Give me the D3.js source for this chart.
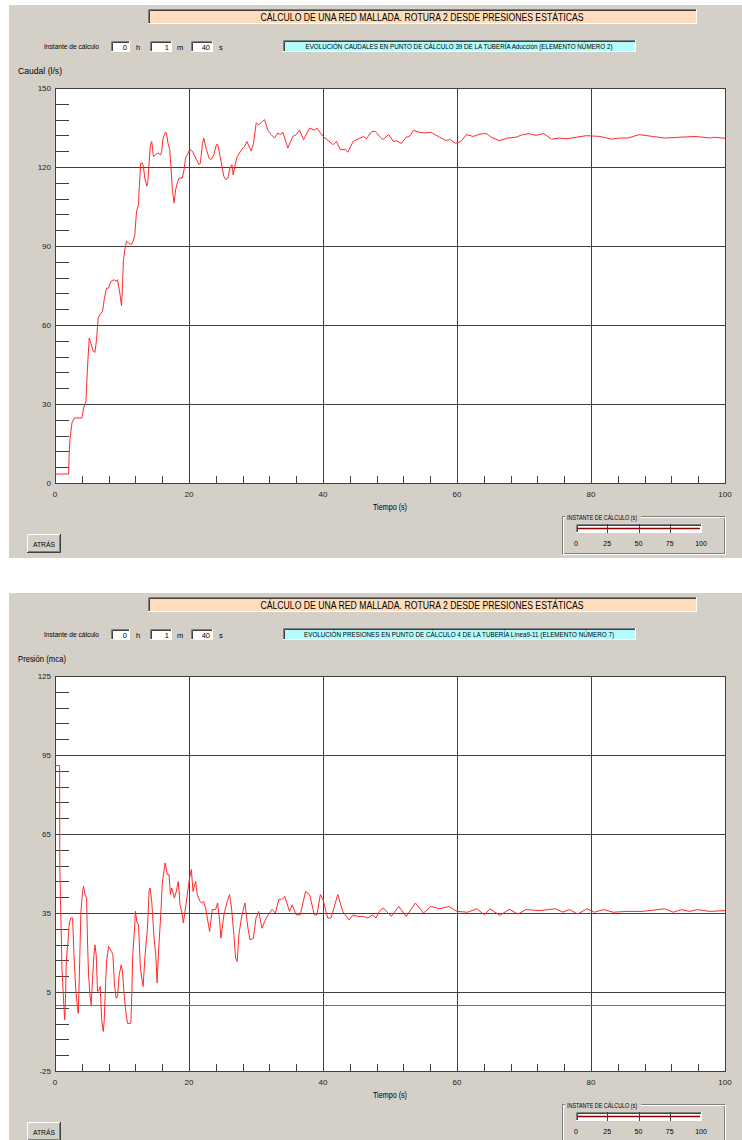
<!DOCTYPE html>
<html><head><meta charset="utf-8">
<script src="https://cdn.jsdelivr.net/npm/d3@7/dist/d3.min.js"></script>
<style>
html,body{margin:0;padding:0;background:#fff;}
svg text{font-family:"Liberation Sans Narrow","Liberation Sans",Arial,sans-serif;}
</style></head><body>
<svg id="c" width="742" height="1140"></svg>
<script>
// ---------- DATA ----------
const mainTitle = "CÁLCULO DE UNA RED MALLADA. ROTURA 2 DESDE PRESIONES ESTÁTICAS";
const caudalSubtitle = "EVOLUCIÓN CAUDALES EN PUNTO DE CÁLCULO 39 DE LA TUBERÍA Aducción  (ELEMENTO NÚMERO 2)";
const presionSubtitle = "EVOLUCIÓN PRESIONES EN PUNTO DE CÁLCULO 4 DE LA TUBERÍA Línea9-11  (ELEMENTO NÚMERO 7)";
const caudalYLabel = "Caudal (l/s)";
const presionYLabel = "Presión (mca)";
const xLabel = "Tiempo (s)";
const timeFields = ["0","1","40"];
const timeUnits = ["h","m","s"];
const xTicks = [0,20,40,60,80,100];
const caudalYTicks = [0,30,60,90,120,150];
const presionYTicks = [-25,5,35,65,95,125];
const sliderTicks = [0,25,50,75,100];
const presionRef = [0];

const caudalT = [0,2.03,2.1,2.23,2.53,2.88,4.02,4.27,4.62,4.86,5.11,5.36,5.71,5.96,6.2,6.35,6.45,6.85,7.1,7.34,7.69,7.99,8.34,8.83,9.18,9.33,9.68,9.93,10.07,10.22,10.42,10.67,11.07,11.41,11.66,11.91,12.16,12.46,12.56,12.8,13.05,13.2,13.4,13.7,13.85,14.04,14.24,14.44,14.69,15.04,15.29,15.78,15.93,16.13,16.43,16.63,16.87,17.12,17.32,17.52,17.77,18.01,18.26,18.51,19.01,19.26,19.5,19.75,20.1,20.5,21,21.5,21.7,22,22.2,22.6,23,23.3,23.7,24.1,24.3,24.8,25.2,25.5,25.8,26.1,26.4,26.6,26.9,27.2,27.7,28.04,28.3,28.63,29.28,29.63,30.03,30.43,30.92,31.27,31.77,32.27,32.76,33.26,33.61,34.01,34.75,35.5,36,36.5,37.1,38,38.7,39.1,40,40.6,41.5,42,42.6,43.4,43.7,44.5,45.5,46.05,46.45,47.3,47.8,48.9,49.8,50.5,50.9,51.7,52.4,52.9,53.5,54.4,55.2,56.1,57.4,58.4,58.9,59.8,60.6,61.4,62.4,63.4,64.4,65.1,66.3,67.6,68.8,69.8,70.7,71.8,72.9,74.1,75.3,76.4,77.8,79.3,81.3,83,84.3,85.5,87.2,89.2,91,93.2,95.7,97.7,98.4,100];
const caudalQ = [3.4,3.4,10,16.5,22.8,24.7,24.7,28.5,31,44.3,55,53,50,49.6,54.4,59.5,62.7,64.6,65.2,69.6,74,74,76.6,77.2,76.6,77.2,72,67.3,74.7,84.8,88.6,91.8,91,90.5,91.8,94.3,103,105.7,111.4,121.5,121.5,120,115.8,112.7,114,121.5,128.5,129.7,124,124.7,125.3,124.7,126,131,133,133,129,126.6,119.6,111.4,106.3,111.4,114,115.8,115.8,119,123.4,124.7,126.6,126,123.4,120.9,121.5,128.5,131,126.6,123.4,122.8,124.7,128.5,128.5,122,116.4,115.2,115.8,119.6,120.9,117,121,124,126,127.2,127.8,129.7,126,129,136.7,136,137.3,138,134,132.3,131,132.9,132.3,133.2,127.2,131.6,132.3,134,130.4,134.8,134,134.8,131.6,130.4,128.5,129.7,126.6,126.6,125.6,129.7,131,131.6,130.7,133.5,133.5,130.4,132.3,129.7,130,129,131.3,131.6,133.9,133.2,132.9,133.2,131.3,130,130.5,129,129.7,132.3,131.6,132.5,132.7,131.3,130,131,131.3,132.3,132.7,132,132.7,130.6,131,130.7,131.3,131.9,131.6,130.6,131,131,132.3,131.6,131,131.3,131.6,131,131.3,130.9];

const presionT = [0,0.69,0.72,0.89,1.04,1.24,1.44,1.54,1.69,1.94,2.13,2.38,2.63,2.83,3.08,3.33,3.47,3.62,3.72,3.87,4.12,4.27,4.47,4.71,4.86,5.01,5.21,5.41,5.61,5.81,5.96,6.15,6.35,6.6,6.75,6.95,7.2,7.34,7.49,7.69,7.99,8.44,8.64,8.88,9.13,9.33,9.58,9.88,10.07,10.32,10.57,10.82,11.32,11.46,11.61,11.81,12.01,12.21,12.46,12.75,13.15,13.45,13.8,14.04,14.19,14.44,14.79,15.04,15.24,15.43,15.78,16.03,16.33,16.43,16.77,17.02,17.22,17.42,17.82,18.11,18.41,18.66,18.91,19.16,19.4,19.75,20.05,20.35,20.6,20.99,21.24,21.64,21.89,22.18,22.48,22.73,23.08,23.47,23.97,24.27,24.57,24.76,25.21,25.71,26.05,26.35,26.7,26.95,27.2,27.44,27.9,28.35,28.75,29.1,29.6,30,30.4,30.9,31.3,31.5,31.9,32.4,32.9,33.4,33.8,34.3,35,35.4,36,36.6,37.4,38,38.7,39.1,39.6,40,40.7,41.2,41.7,42.2,42.96,43.5,43.9,44.5,45.2,46.05,46.7,47.4,47.9,48.4,49,50.2,51.3,52.4,53.8,55,56.1,57.4,58.8,60,61.6,62.96,64.1,64.9,66.4,67.8,69.1,70.3,72.3,74.7,75.8,76.8,78,79.4,80.5,81.9,83.3,85.3,87.7,91,92.3,93.5,94.7,95.9,97.7,100];
const presionP = [91,91,52.1,32.4,13.9,3.9,-5.6,0.1,17.1,24.2,31.2,33.1,33.1,19.1,6.5,-0.5,-3.1,10.3,20.4,35.6,43.2,45.1,42,40.7,23.6,11.5,3.9,0.1,10.3,19.1,22.9,19.1,5.2,5.8,7.1,-5,-10,-6.2,3.9,16.6,22.3,20.4,19.1,7.7,2.6,3.3,11.5,15.3,12.8,3.9,-2.4,-6.9,-6.9,3.9,19.1,26.7,35.6,31.8,30.5,13.9,7.1,19.1,29.2,43.2,44.5,39.4,25.4,19.1,8.4,19.1,34.3,47,52.1,54,49.6,49.6,42,44.5,40.7,43.2,47,38.1,35.6,31.2,35.6,42,47.7,51.5,43.2,47,42,39.4,38.8,39.4,36.9,33.1,28,36.3,36.3,38.8,32.4,25.4,34.3,39.4,42,36.9,26.7,17.9,16.6,26.7,34.3,38.8,30,24.8,25.4,33.1,35.6,29.2,31.8,33.1,34.6,36.3,35,40.1,40.1,41.3,35.6,38.1,34.3,34.3,43.2,42,34.3,34.3,42,40.1,33.1,33.1,37.5,42,35.6,33.7,32.4,34.3,33.7,33.7,33.1,34.3,33.1,35.6,36.9,33.7,37.5,33.7,38.8,35,37.5,36.6,37.5,35.6,35.3,36.6,34.3,36.6,34.1,36.4,34.6,36.3,35.9,36.6,35.3,36.3,34.6,36.6,35.3,36.3,35.3,35.6,35.6,36.6,35.3,36.3,35.6,36.3,35.6,35.9];

// ---------- DRAW ----------
const svg = d3.select("#c");
const BG = "#d4d0c8";

function sunken(g, x, y, w, h, fill){
  g.append("rect").attr("x",x).attr("y",y).attr("width",w).attr("height",h).attr("fill",fill);
  g.append("path").attr("d",`M${x+0.5},${y+h}V${y+0.5}H${x+w}`).attr("stroke","#808080").attr("fill","none");
  g.append("path").attr("d",`M${x+1.5},${y+h-1}V${y+1.5}H${x+w-1}`).attr("stroke","#404040").attr("fill","none");
  g.append("path").attr("d",`M${x},${y+h-0.5}H${x+w-0.5}V${y}`).attr("stroke","#fff").attr("fill","none");
}
function raised(g, x, y, w, h){
  g.append("rect").attr("x",x).attr("y",y).attr("width",w).attr("height",h).attr("fill",BG);
  g.append("path").attr("d",`M${x+0.5},${y+h}V${y+0.5}H${x+w}`).attr("stroke","#fff").attr("fill","none");
  g.append("path").attr("d",`M${x},${y+h-0.5}H${x+w-0.5}V${y}`).attr("stroke","#404040").attr("fill","none");
  g.append("path").attr("d",`M${x+1},${y+h-1.5}H${x+w-1.5}V${y+1}`).attr("stroke","#808080").attr("fill","none");
}
function label(g, x, y, txt, size, len, anchor){
  const t = g.append("text").attr("x",x).attr("y",y).attr("font-size",size).attr("fill","#000")
    .attr("text-anchor",anchor||"start").text(txt);
  if (len) t.attr("textLength",len).attr("lengthAdjust","spacingAndGlyphs");
  return t;
}

function panel(off, subtitle, subLen, yLabel, yLabLen, yTicks, T, V, refLines){
  const g = svg.append("g").attr("transform",`translate(0,${off})`);
  g.append("rect").attr("x",9).attr("y",5).attr("width",733).attr("height",553).attr("fill",BG);

  // title
  sunken(g,148,9,549,15,"#fedcbc");
  label(g,422,20.5,mainTitle,10,323,"middle");

  // instante
  label(g,44,48.5,"Instante de cálculo",7.5,55);
  const bx = [111,150,191], bw=[19,22,22], ux=[136,177,219];
  timeFields.forEach((v,i)=>{
    sunken(g,bx[i],41,bw[i],11,"#fff");
    label(g,bx[i]+bw[i]-3,49.5,v,7.5,null,"end");
    label(g,ux[i],49.5,timeUnits[i],7.5);
  });
  sunken(g,283,40,353,12,"#b4fcfc");
  label(g,459,49,subtitle,8,subLen,"middle");

  label(g,18,74,yLabel,9,yLabLen);

  // plot
  const X0=55, X1=725, Y0=88, Y1=483;
  const x = d3.scaleLinear().domain([xTicks[0], xTicks[xTicks.length-1]]).range([X0,X1]);
  const y = d3.scaleLinear().domain([yTicks[0], yTicks[yTicks.length-1]]).range([Y1,Y0]);
  const cr = v => Math.round(v)+0.5;
  g.append("rect").attr("x",X0+0.5).attr("y",Y0+0.5).attr("width",X1-X0).attr("height",Y1-Y0)
    .attr("fill","#fff").attr("stroke","#404040");

  const ystep = (yTicks[1]-yTicks[0]);
  const yMinor = d3.range(yTicks[0], yTicks[yTicks.length-1]+0.001, ystep/5);
  const xMinor = d3.range(xTicks[0], xTicks[xTicks.length-1]+0.001, (xTicks[1]-xTicks[0])/5);

  g.append("g").selectAll("line").data(yMinor).join("line")
    .attr("x1",X0).attr("x2",X0+14).attr("y1",d=>cr(y(d))).attr("y2",d=>cr(y(d))).attr("stroke","#404040");
  g.append("g").selectAll("line").data(xMinor).join("line")
    .attr("x1",d=>cr(x(d))).attr("x2",d=>cr(x(d))).attr("y1",Y1).attr("y2",Y1-7).attr("stroke","#404040");

  g.append("g").selectAll("line").data(yTicks.slice(1,-1)).join("line")
    .attr("x1",X0).attr("x2",X1).attr("y1",d=>cr(y(d))).attr("y2",d=>cr(y(d))).attr("stroke","#404040");
  g.append("g").selectAll("line").data(xTicks.slice(1,-1)).join("line")
    .attr("y1",Y0).attr("y2",Y1).attr("x1",d=>cr(x(d))).attr("x2",d=>cr(x(d))).attr("stroke","#404040");

  g.append("g").selectAll("line").data(refLines).join("line")
    .attr("x1",X0+1).attr("x2",X1).attr("y1",d=>cr(y(d))).attr("y2",d=>cr(y(d))).attr("stroke","#22aa22");

  g.append("g").selectAll("text").data(yTicks).join("text")
    .attr("x",51).attr("y",d=>y(d)+3).attr("text-anchor","end").attr("font-size",8).attr("fill","#222").text(d=>d);
  g.append("g").selectAll("text").data(xTicks).join("text")
    .attr("x",d=>x(d)).attr("y",Y1+14).attr("text-anchor","middle").attr("font-size",8).attr("fill","#222").text(d=>d);
  label(g,390,Y1+27,xLabel,9,34,"middle");

  const pts = T.map((t,i)=>[t,V[i]]);
  g.append("path").datum(pts).attr("fill","none").attr("stroke","#ff2a2a").attr("stroke-width",1)
    .attr("d", d3.line().x(d=>x(d[0])).y(d=>y(d[1])));

  raised(g,27,534,34,19);
  label(g,44,546.5,"ATRÁS",7.5,22,"middle");

  g.append("rect").attr("x",562.5).attr("y",516.5).attr("width",162).attr("height",37).attr("fill","none").attr("stroke","#808080");
  g.append("rect").attr("x",563.5).attr("y",517.5).attr("width",162).attr("height",37).attr("fill","none").attr("stroke","#fff");
  g.append("rect").attr("x",565).attr("y",511).attr("width",76).attr("height",10).attr("fill",BG);
  label(g,567,519.5,"INSTANTE DE CÁLCULO (s)",7.5,70);
  const sx = d3.scaleLinear().domain([sliderTicks[0], sliderTicks[sliderTicks.length-1]]).range([576,701]);
  sunken(g,576,524,126,9,"#fff");
  g.append("line").attr("x1",578).attr("x2",700).attr("y1",528.5).attr("y2",528.5).attr("stroke","#8b0000").attr("stroke-width",1.4);
  g.append("g").selectAll("line").data(sliderTicks.slice(1,-1)).join("line")
    .attr("x1",d=>cr(sx(d))).attr("x2",d=>cr(sx(d))).attr("y1",524).attr("y2",533).attr("stroke","#404040");
  g.append("g").selectAll("text").data(sliderTicks).join("text")
    .attr("x",d=>sx(d)).attr("y",546).attr("text-anchor","middle").attr("font-size",7).text(d=>d);
}

panel(0, caudalSubtitle, 307, caudalYLabel, 44, caudalYTicks, caudalT, caudalQ, []);
panel(588, presionSubtitle, 310, presionYLabel, 48, presionYTicks, presionT, presionP, presionRef);
</script></body></html>
